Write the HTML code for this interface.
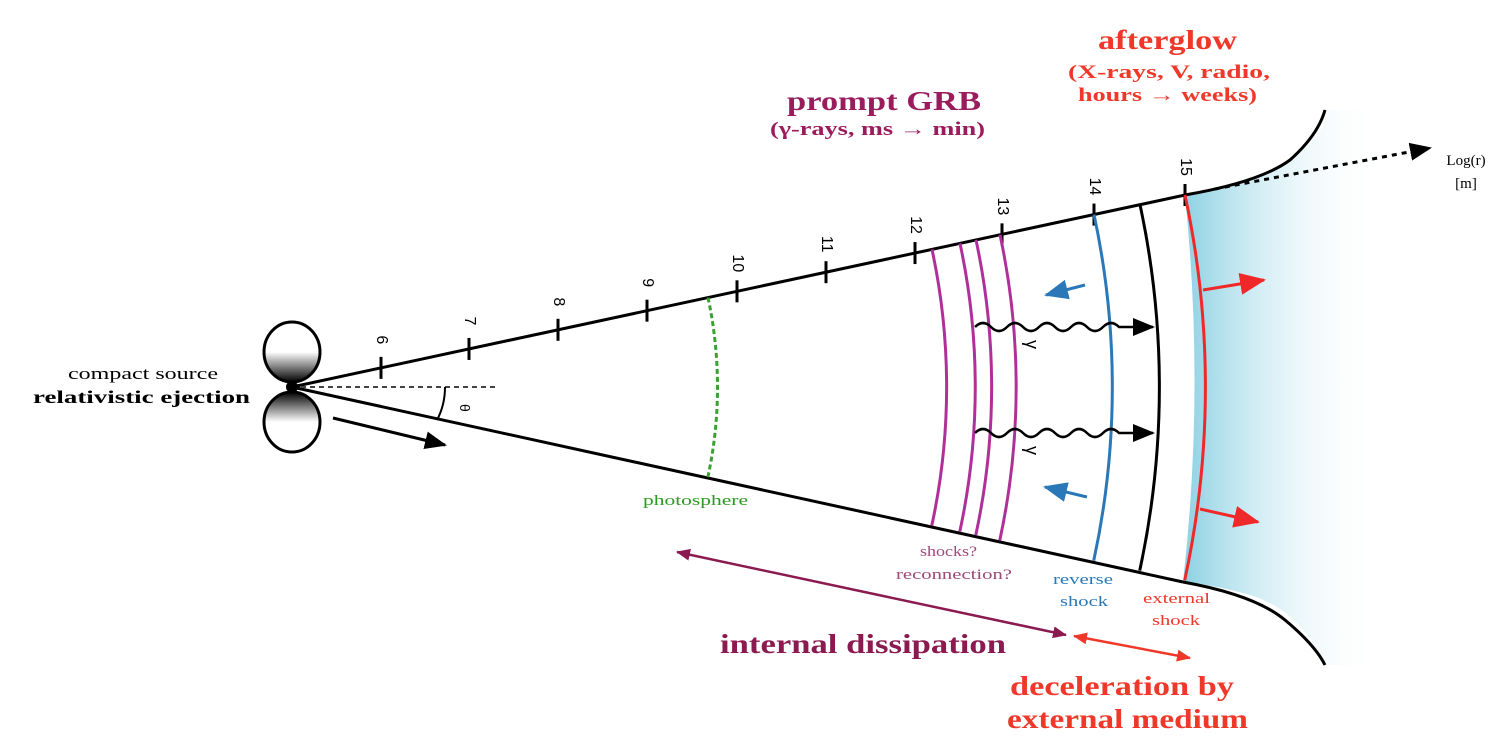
<!DOCTYPE html>
<html><head><meta charset="utf-8"><style>
html,body{margin:0;padding:0;background:#fff;}
svg{display:block;font-family:"Liberation Serif",serif;}
</style></head><body>
<svg width="1506" height="754" viewBox="0 0 1506 754">
<defs>
<linearGradient id="glow" x1="0" x2="1" y1="0" y2="0">
<stop offset="0" stop-color="#7fcbe0" stop-opacity="0.9"/>
<stop offset="1" stop-color="#ffffff" stop-opacity="0"/>
</linearGradient>
<linearGradient id="lobeT" x1="0" x2="0" y1="0" y2="1">
<stop offset="0.5" stop-color="#fff"/><stop offset="1" stop-color="#000"/>
</linearGradient>
<linearGradient id="lobeB" x1="0" x2="0" y1="1" y2="0">
<stop offset="0.5" stop-color="#fff"/><stop offset="1" stop-color="#000"/>
</linearGradient>
<marker id="abig" markerWidth="22" markerHeight="18" refX="20" refY="9" orient="auto" markerUnits="userSpaceOnUse"><path d="M0,0 L22,9 L0,18z" fill="#000"/></marker>
<marker id="ablue" markerWidth="24" markerHeight="20" refX="22" refY="10" orient="auto" markerUnits="userSpaceOnUse"><path d="M0,0 L24,10 L0,20z" fill="#2a78b8"/></marker>
<marker id="ared" markerWidth="26" markerHeight="22" refX="24" refY="11" orient="auto" markerUnits="userSpaceOnUse"><path d="M0,0 L26,11 L0,22z" fill="#f0282a"/></marker>
<marker id="apE" markerWidth="14" markerHeight="12" refX="13" refY="6" orient="auto" markerUnits="userSpaceOnUse"><path d="M0,0 L14,6 L0,12z" fill="#8b1a50"/></marker>
<marker id="apS" markerWidth="14" markerHeight="12" refX="1" refY="6" orient="auto" markerUnits="userSpaceOnUse"><path d="M14,0 L0,6 L14,12z" fill="#8b1a50"/></marker>
<marker id="arE" markerWidth="14" markerHeight="12" refX="13" refY="6" orient="auto" markerUnits="userSpaceOnUse"><path d="M0,0 L14,6 L0,12z" fill="#f0382a"/></marker>
<marker id="arS" markerWidth="14" markerHeight="12" refX="1" refY="6" orient="auto" markerUnits="userSpaceOnUse"><path d="M14,0 L0,6 L14,12z" fill="#f0382a"/></marker>
<marker id="adash" markerWidth="22" markerHeight="18" refX="20" refY="9" orient="auto" markerUnits="userSpaceOnUse"><path d="M0,0 L22,9 L0,18z" fill="#000"/></marker>
</defs>

<path d="M1185,196 Q1240,188 1290,160 Q1330,130 1325,110 L1380,110 L1380,665 L1325,665 Q1300,610 1250,595 Q1215,585 1183,582 Q1205,390 1185,196z" fill="url(#glow)"/>

<line x1="292" y1="387" x2="1185" y2="195" stroke="#000" stroke-width="3"/>
<line x1="292" y1="387" x2="1183" y2="582" stroke="#000" stroke-width="3"/>
<path d="M1185,195 Q1260,182 1290,160 Q1318,135 1325,110" fill="none" stroke="#000" stroke-width="3"/>
<path d="M1183,582 Q1255,595 1285,620 Q1315,645 1325,665" fill="none" stroke="#000" stroke-width="3"/>
<line x1="1215" y1="189" x2="1430" y2="148" stroke="#000" stroke-width="3" stroke-dasharray="5,5" marker-end="url(#adash)"/>
<text x="1466" y="165" font-size="15" text-anchor="middle">Log(r)</text>
<text x="1466" y="188" font-size="15" text-anchor="middle">[m]</text>

<line x1="292" y1="387" x2="495" y2="387" stroke="#444" stroke-width="2" stroke-dasharray="5,4"/>
<path d="M445,387 Q445,405 437,420" fill="none" stroke="#000" stroke-width="2"/>
<text x="460" y="404" font-size="14" transform="rotate(90 460 404)" font-family="Liberation Sans,sans-serif">θ</text>
<line x1="333" y1="418" x2="445" y2="445" stroke="#000" stroke-width="3" marker-end="url(#abig)"/>

<g>
<ellipse cx="292" cy="352" rx="28" ry="30" fill="url(#lobeT)" stroke="#000" stroke-width="3"/>
<ellipse cx="292" cy="422" rx="28" ry="30" fill="url(#lobeB)" stroke="#000" stroke-width="3"/>
<circle cx="292" cy="387" r="6" fill="#000"/>
</g>
<text x="68" y="379" font-size="17" textLength="150" lengthAdjust="spacingAndGlyphs">compact source</text>
<text x="33" y="403" font-size="18" font-weight="bold" textLength="217" lengthAdjust="spacingAndGlyphs">relativistic ejection</text>

<g id="ticks"></g>
<g id="arcs"></g>

<line x1="1085" y1="285" x2="1046" y2="295" stroke="#2a78b8" stroke-width="3" marker-end="url(#ablue)"/>
<line x1="1087" y1="497" x2="1045" y2="487" stroke="#2a78b8" stroke-width="3" marker-end="url(#ablue)"/>
<line x1="1203" y1="290" x2="1264" y2="280" stroke="#f0282a" stroke-width="3" marker-end="url(#ared)"/>
<line x1="1200" y1="509" x2="1258" y2="522" stroke="#f0282a" stroke-width="3" marker-end="url(#ared)"/>
<path d="M975,327 q8,-8 16,0 t16,0 t16,0 t16,0 t16,0 t16,0 t16,0 t16,0 t16,0 L1153,327" fill="none" stroke="#000" stroke-width="2.5" marker-end="url(#abig)"/>
<path d="M975,433 q8,-8 16,0 t16,0 t16,0 t16,0 t16,0 t16,0 t16,0 t16,0 t16,0 L1153,433" fill="none" stroke="#000" stroke-width="2.5" marker-end="url(#abig)"/>
<text x="1026" y="340" font-size="18" transform="rotate(90 1026 340)" font-family="Liberation Sans,sans-serif">γ</text>
<text x="1026" y="446" font-size="18" transform="rotate(90 1026 446)" font-family="Liberation Sans,sans-serif">γ</text>

<line x1="677" y1="552" x2="1066" y2="635" stroke="#8b1a50" stroke-width="2.5" marker-start="url(#apS)" marker-end="url(#apE)"/>
<line x1="1074" y1="636" x2="1190" y2="658" stroke="#f0382a" stroke-width="2.5" marker-start="url(#arS)" marker-end="url(#arE)"/>

<text x="1098" y="49" font-size="27" font-weight="bold" fill="#f0382a" textLength="139" lengthAdjust="spacingAndGlyphs">afterglow</text>
<text x="1068" y="78" font-size="19" font-weight="bold" fill="#f0382a" textLength="202" lengthAdjust="spacingAndGlyphs">(X-rays, V, radio,</text>
<text x="1078" y="101" font-size="19" font-weight="bold" fill="#f0382a" textLength="179" lengthAdjust="spacingAndGlyphs">hours → weeks)</text>
<text x="787" y="110" font-size="27" font-weight="bold" fill="#9b1c5c" textLength="194" lengthAdjust="spacingAndGlyphs">prompt GRB</text>
<text x="770" y="135" font-size="19" font-weight="bold" fill="#9b1c5c" textLength="215" lengthAdjust="spacingAndGlyphs">(γ-rays, ms → min)</text>
<text x="643" y="505" font-size="15" fill="#2a9a20" textLength="105" lengthAdjust="spacingAndGlyphs">photosphere</text>
<text x="920" y="556" font-size="15" fill="#a04a7a" textLength="57" lengthAdjust="spacingAndGlyphs">shocks?</text>
<text x="896" y="579" font-size="15" fill="#a04a7a" textLength="116" lengthAdjust="spacingAndGlyphs">reconnection?</text>
<text x="1053" y="584" font-size="15" fill="#2a78b8" textLength="60" lengthAdjust="spacingAndGlyphs">reverse</text>
<text x="1060" y="606" font-size="15" fill="#2a78b8" textLength="48" lengthAdjust="spacingAndGlyphs">shock</text>
<text x="1143" y="603" font-size="15" fill="#f0382a" textLength="67" lengthAdjust="spacingAndGlyphs">external</text>
<text x="1152" y="625" font-size="15" fill="#f0382a" textLength="48" lengthAdjust="spacingAndGlyphs">shock</text>
<text x="720" y="653" font-size="27" font-weight="bold" fill="#8b1a50" textLength="286" lengthAdjust="spacingAndGlyphs">internal dissipation</text>
<text x="1010" y="695" font-size="27" font-weight="bold" fill="#f0382a" textLength="224" lengthAdjust="spacingAndGlyphs">deceleration by</text>
<text x="1007" y="728" font-size="27" font-weight="bold" fill="#f0382a" textLength="241" lengthAdjust="spacingAndGlyphs">external medium</text>
</svg>
<script>
const tickLabels=["6","7","8","9","10","11","12","13","14","15"];
const tickX=[381,469,558,647,737,826,915,1002,1094,1185];
const arcTopX=[708,932,960,976,1000,1094,1140,1185];
const arcKinds=["photosphere","shell","shell","shell","shell","reverse","contact","external"];
const NS="http://www.w3.org/2000/svg";
const ax=292,ay=387,su=-0.215,sl=0.2166;
const tg=document.getElementById('ticks');
tickX.forEach((x,i)=>{
  const y=ay+su*(x-ax);
  const l=document.createElementNS(NS,'line');
  
  
  l.setAttribute('x1',x);l.setAttribute('x2',x);l.setAttribute('y1',y-11);l.setAttribute('y2',y+11);
  l.setAttribute('stroke','#000');l.setAttribute('stroke-width','3');tg.appendChild(l);
  const t=document.createElementNS(NS,'text');
  
  
  const ty=y-28;
  t.setAttribute('x',x);t.setAttribute('y',ty);
  t.setAttribute('font-size','16');t.setAttribute('font-family','Liberation Sans,sans-serif');
  t.setAttribute('text-anchor','middle');t.setAttribute('dominant-baseline','middle');
  t.setAttribute('transform','rotate(90 '+x+' '+ty+')');
  t.textContent=tickLabels[i];tg.appendChild(t);
});
const colors={photosphere:'#3aa030',shell:'#b0309a',reverse:'#2a78b8',contact:'#000',external:'#f0282a'};
const ag=document.getElementById('arcs');
const cu=1/Math.sqrt(1+su*su);
arcTopX.forEach((x,i)=>{
  const r=(x-ax)/cu;
  const a1=Math.atan(su),a2=Math.atan(sl);
  const x1=ax+r*Math.cos(a1),y1=ay+r*Math.sin(a1),x2=ax+r*Math.cos(a2),y2=ay+r*Math.sin(a2);
  const p=document.createElementNS(NS,'path');
  
  
  p.setAttribute('d','M'+x1+','+y1+' A'+r+','+r+' 0 0 1 '+x2+','+y2);
  p.setAttribute('fill','none');p.setAttribute('stroke',colors[arcKinds[i]]);
  p.setAttribute('stroke-width','3');
  if(arcKinds[i]==='photosphere')p.setAttribute('stroke-dasharray','5,3');
  ag.appendChild(p);
});
</script>
</body></html>
